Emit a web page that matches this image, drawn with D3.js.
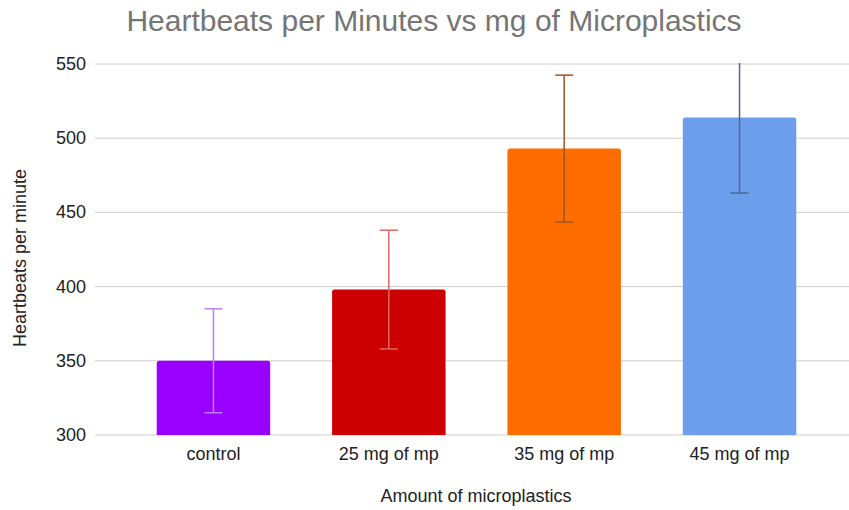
<!DOCTYPE html>
<meta charset="utf-8">
<html>
<head>
<title>Heartbeats vs Microplastics</title>
<style>
  body { margin: 0; background: #fff; }
  text { font-family: "Liberation Sans", Arial, sans-serif; }
</style>
</head>
<body>
<div id="chart"></div>
<script src="https://d3js.org/d3.v7.min.js"></script>
<script>

// data
var categories = ["control", "25 mg of mp", "35 mg of mp", "45 mg of mp"];
var heartbeats = [350, 398, 493, 514];
var errors = [35, 40, 49.5, 51];
var yTicks = [300, 350, 400, 450, 500, 550];

var barColors = ["#9900ff", "#cc0000", "#ff6d01", "#6d9eeb"];
var errColors = ["#c27bf8", "#e06666", "#a0521c", "#4a6a9c"];

var W = 849, H = 510;
var plotL = 95, plotR = 858, plotT = 64, plotB = 435;

var svg = d3.select("#chart").append("svg")
    .attr("width", W)
    .attr("height", H);

var x = d3.scaleBand()
    .domain(categories)
    .range([plotL, plotR])
    .paddingInner(0.353)
    .paddingOuter(0.352);

var y = d3.scaleLinear()
    .domain([300, 550])
    .range([plotB, plotT]);

// clip for the plot area
svg.append("clipPath").attr("id", "plot")
  .append("rect")
    .attr("x", plotL).attr("y", plotT - 1)
    .attr("width", plotR - plotL).attr("height", plotB - plotT + 2);

// title
svg.append("text")
    .attr("x", 434).attr("y", 31)
    .attr("text-anchor", "middle")
    .style("font-size", "30px")
    .style("fill", "#757575")
    .text("Heartbeats per Minutes vs mg of Microplastics");

// gridlines
svg.append("g")
  .selectAll("line")
  .data(yTicks)
  .join("line")
    .attr("x1", plotL).attr("x2", plotR)
    .attr("y1", function(d) { return y(d); })
    .attr("y2", function(d) { return y(d); })
    .attr("stroke", "#cccccc")
    .attr("stroke-width", 1);

// y tick labels
svg.append("g")
  .selectAll("text")
  .data(yTicks)
  .join("text")
    .attr("x", 86)
    .attr("y", function(d) { return y(d) + 6; })
    .attr("text-anchor", "end")
    .style("font-size", "18px")
    .style("fill", "#222")
    .text(function(d) { return d; });

// bars
var data = categories.map(function(c, i) {
  return { cat: c, v: heartbeats[i], e: errors[i], fill: barColors[i], err: errColors[i] };
});

var plot = svg.append("g").attr("clip-path", "url(#plot)");

plot.selectAll(".bar")
  .data(data)
  .join("path")
    .attr("class", "bar")
    .attr("fill", function(d) { return d.fill; })
    .attr("d", function(d) {
      var x0 = x(d.cat), x1 = x0 + x.bandwidth(), y0 = y(d.v), y1 = y(300), r = 2.5;
      return "M" + x0 + "," + y1 + "V" + (y0 + r) + "Q" + x0 + "," + y0 + " " + (x0 + r) + "," + y0 +
             "H" + (x1 - r) + "Q" + x1 + "," + y0 + " " + x1 + "," + (y0 + r) + "V" + y1 + "Z";
    });

// error bars
var eb = plot.selectAll(".err")
  .data(data)
  .join("g")
    .attr("class", "err")
    .attr("stroke", function(d) { return d.err; })
    .attr("stroke-width", 1.5);

eb.append("line")
    .attr("x1", function(d) { return x(d.cat) + x.bandwidth() / 2; })
    .attr("x2", function(d) { return x(d.cat) + x.bandwidth() / 2; })
    .attr("y1", function(d) { return y(d.v - d.e); })
    .attr("y2", function(d) { return y(d.v + d.e); });

eb.append("line")
    .attr("x1", function(d) { return x(d.cat) + x.bandwidth() / 2 - 9; })
    .attr("x2", function(d) { return x(d.cat) + x.bandwidth() / 2 + 9; })
    .attr("y1", function(d) { return y(d.v - d.e); })
    .attr("y2", function(d) { return y(d.v - d.e); });

eb.append("line")
    .attr("x1", function(d) { return x(d.cat) + x.bandwidth() / 2 - 9; })
    .attr("x2", function(d) { return x(d.cat) + x.bandwidth() / 2 + 9; })
    .attr("y1", function(d) { return y(d.v + d.e); })
    .attr("y2", function(d) { return y(d.v + d.e); });

// x labels
svg.append("g")
  .selectAll("text")
  .data(categories)
  .join("text")
    .attr("x", function(d) { return x(d) + x.bandwidth() / 2; })
    .attr("y", 460)
    .attr("text-anchor", "middle")
    .style("font-size", "18px")
    .style("fill", "#222")
    .text(function(d) { return d; });

// axis titles
svg.append("text")
    .attr("x", 476).attr("y", 502)
    .attr("text-anchor", "middle")
    .style("font-size", "18px")
    .style("fill", "#222")
    .text("Amount of microplastics");

svg.append("text")
    .attr("transform", "translate(26,258) rotate(-90)")
    .attr("text-anchor", "middle")
    .style("font-size", "18px")
    .style("fill", "#222")
    .text("Heartbeats per minute");

</script>
</body>
</html>
